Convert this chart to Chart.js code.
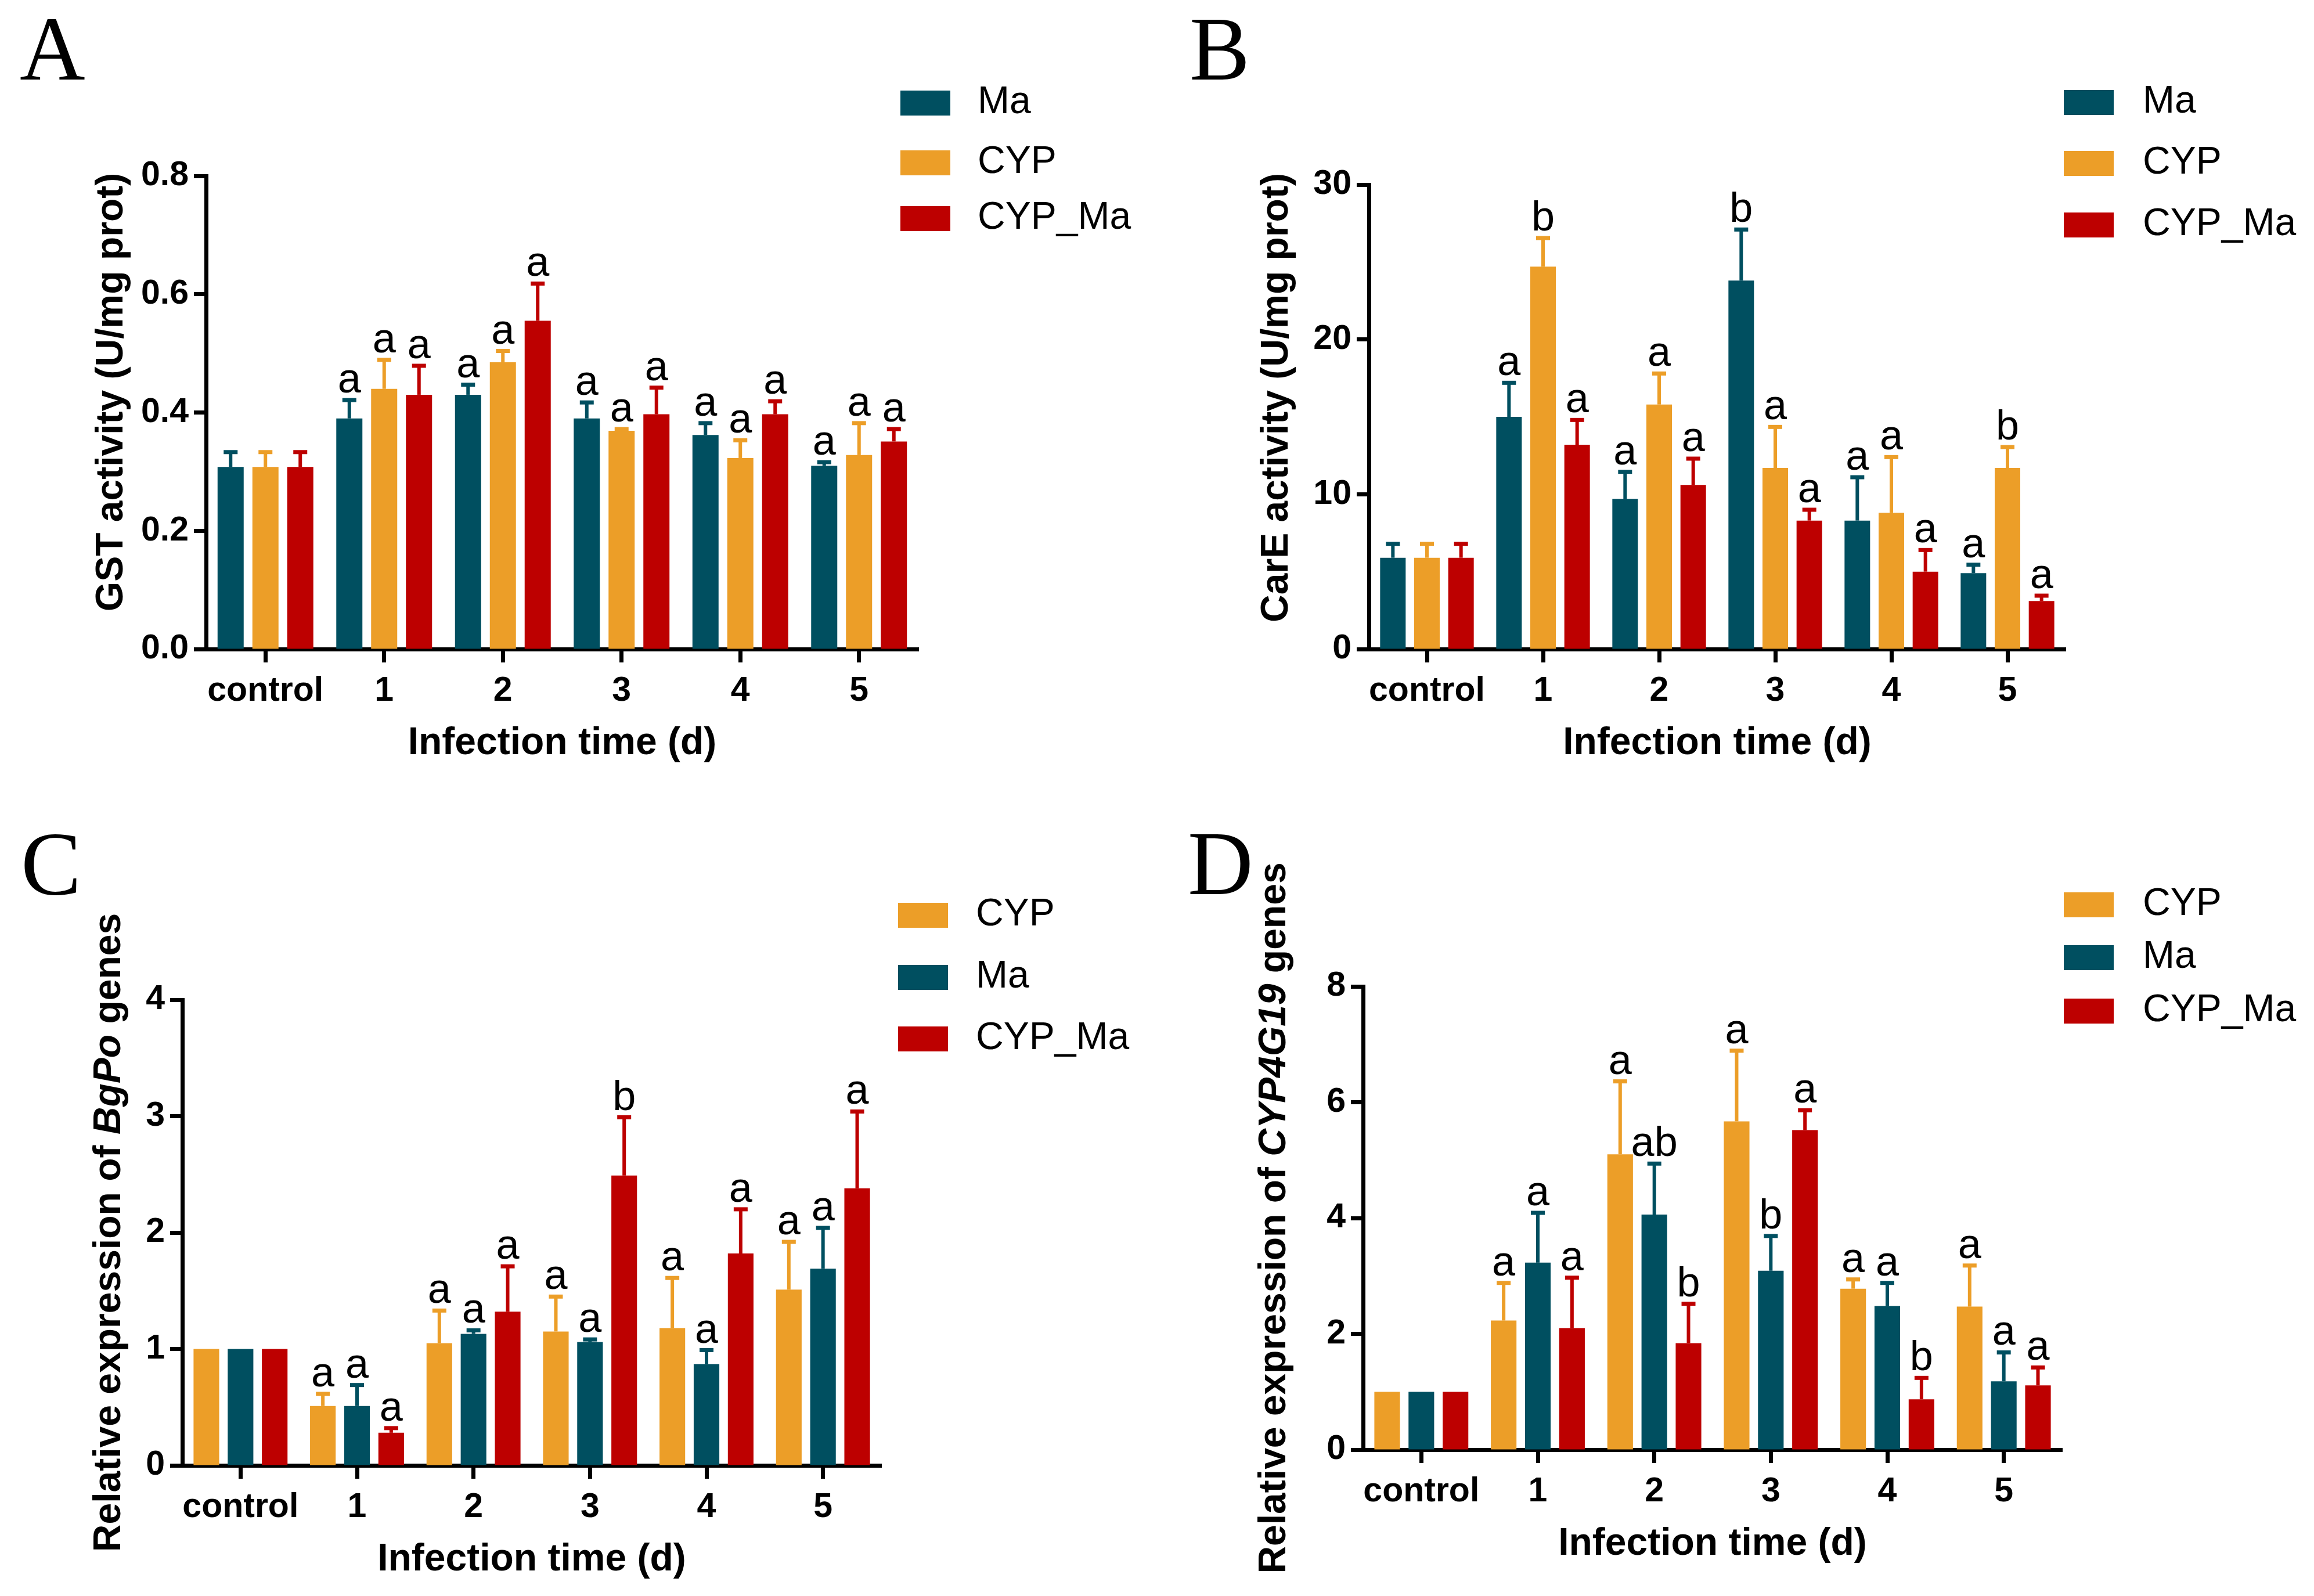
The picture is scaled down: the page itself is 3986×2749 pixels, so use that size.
<!DOCTYPE html>
<html>
<head>
<meta charset="utf-8">
<script src="https://cdn.jsdelivr.net/npm/chart.js@4.4.1/dist/chart.umd.min.js"></script>
<style>
  html, body { margin: 0; padding: 0; background: #fff; }
  body { width: 3986px; height: 2749px; position: relative; overflow: hidden; }
  canvas { position: absolute; }
  .tag { position: absolute; font-family: 'Liberation Serif', 'Times New Roman', serif; font-size: 156px; line-height: 1; color: #000; }
</style>
</head>
<body>
<div class="tag" style="left:34px;top:7px">A</div>
<div class="tag" style="left:2049px;top:7px">B</div>
<div class="tag" style="left:36px;top:1410px">C</div>
<div class="tag" style="left:2046px;top:1410px">D</div>

<canvas id="chartA" width="1993" height="1375" style="left:0;top:0;width:1993px;height:1375px"></canvas>
<canvas id="chartB" width="1993" height="1375" style="left:1993px;top:0;width:1993px;height:1375px"></canvas>
<canvas id="chartC" width="1993" height="1374" style="left:0;top:1375px;width:1993px;height:1374px"></canvas>
<canvas id="chartD" width="1993" height="1374" style="left:1993px;top:1375px;width:1993px;height:1374px"></canvas>

<script>
"use strict";

const categories = ['control', '1', '2', '3', '4', '5'];

const maColor = '#004f60';
const cypColor = '#ec9e28';
const cypMaColor = '#bd0000';

// ---- A: GST activity ----
const gstMa = [0.308, 0.39, 0.43, 0.39, 0.362, 0.31];
const gstMaErr = [0.025, 0.031, 0.017, 0.027, 0.02, 0.006];
const gstMaSig = ['', 'a', 'a', 'a', 'a', 'a'];
const gstCyp = [0.308, 0.44, 0.485, 0.369, 0.323, 0.328];
const gstCypErr = [0.025, 0.049, 0.019, 0.003, 0.03, 0.054];
const gstCypSig = ['', 'a', 'a', 'a', 'a', 'a'];
const gstCypMa = [0.308, 0.43, 0.555, 0.397, 0.397, 0.351];
const gstCypMaErr = [0.025, 0.049, 0.063, 0.045, 0.022, 0.021];
const gstCypMaSig = ['', 'a', 'a', 'a', 'a', 'a'];
const gstTicks = { max: 0.8, step: 0.2 };

// ---- B: CarE activity ----
const careMa = [5.9, 15.0, 9.7, 23.8, 8.3, 4.9];
const careMaErr = [0.9, 2.2, 1.75, 3.3, 2.8, 0.55];
const careMaSig = ['', 'a', 'a', 'b', 'a', 'a'];
const careCyp = [5.9, 24.7, 15.8, 11.7, 8.8, 11.7];
const careCypErr = [0.9, 1.85, 2.0, 2.65, 3.6, 1.35];
const careCypSig = ['', 'b', 'a', 'a', 'a', 'b'];
const careCypMa = [5.9, 13.2, 10.6, 8.3, 5.0, 3.1];
const careCypMaErr = [0.9, 1.6, 1.7, 0.7, 1.4, 0.35];
const careCypMaSig = ['', 'a', 'a', 'a', 'a', 'a'];
const careTicks = { max: 30, step: 10 };

// ---- C: BgPo expression ----
const bgpoCyp = [1, 0.51, 1.05, 1.15, 1.18, 1.51];
const bgpoCypErr = [0, 0.105, 0.28, 0.3, 0.43, 0.41];
const bgpoCypSig = ['', 'a', 'a', 'a', 'a', 'a'];
const bgpoMa = [1, 0.51, 1.13, 1.06, 0.87, 1.69];
const bgpoMaErr = [0, 0.18, 0.03, 0.022, 0.12, 0.35];
const bgpoMaSig = ['', 'a', 'a', 'a', 'a', 'a'];
const bgpoCypMa = [1, 0.28, 1.32, 2.49, 1.82, 2.38];
const bgpoCypMaErr = [0, 0.04, 0.39, 0.5, 0.38, 0.66];
const bgpoCypMaSig = ['', 'a', 'a', 'b', 'a', 'a'];
const bgpoTicks = { max: 4, step: 1 };

// ---- D: CYP4G19 expression ----
const cyp4Cyp = [1, 2.23, 5.1, 5.67, 2.78, 2.47];
const cyp4CypErr = [0, 0.65, 1.26, 1.22, 0.16, 0.71];
const cyp4CypSig = ['', 'a', 'a', 'a', 'a', 'a'];
const cyp4Ma = [1, 3.23, 4.06, 3.09, 2.48, 1.18];
const cyp4MaErr = [0, 0.86, 0.88, 0.6, 0.4, 0.5];
const cyp4MaSig = ['', 'a', 'ab', 'b', 'a', 'a'];
const cyp4CypMa = [1, 2.1, 1.84, 5.52, 0.87, 1.11];
const cyp4CypMaErr = [0, 0.87, 0.68, 0.34, 0.37, 0.31];
const cyp4CypMaSig = ['', 'a', 'b', 'a', 'b', 'a'];
const cyp4Ticks = { max: 8, step: 2 };

Chart.defaults.font.family = "'Liberation Sans', Arial, sans-serif";
Chart.defaults.color = '#000';

const FONT = "'Liberation Sans', Arial, sans-serif";

function series(label, color, data, err, sig) {
    return {
        label: label,
        data: data,
        err: err,
        sig: sig,
        backgroundColor: color,
        borderWidth: 0,
        categoryPercentage: 0.88,
        barPercentage: 0.75
    };
}

// error bars, letters, legend and y title
function panelDeco(geo) {
    return {
        id: 'panelDeco',
        afterDatasetsDraw(chart) {
            const ctx = chart.ctx;
            const y = chart.scales.y;
            ctx.save();
            chart.data.datasets.forEach((ds, i) => {
                chart.getDatasetMeta(i).data.forEach((bar, j) => {
                    const e = ds.err[j];
                    const top = y.getPixelForValue(ds.data[j] + e);
                    ctx.strokeStyle = ds.backgroundColor;
                    if (e > 0) {
                        ctx.lineWidth = 6;
                        ctx.beginPath();
                        ctx.moveTo(bar.x, bar.y);
                        ctx.lineTo(bar.x, top);
                        ctx.stroke();
                        ctx.lineWidth = 7;
                        ctx.beginPath();
                        ctx.moveTo(bar.x - 12, top);
                        ctx.lineTo(bar.x + 12, top);
                        ctx.stroke();
                    }
                    if (ds.sig[j]) {
                        ctx.fillStyle = '#000';
                        ctx.font = '72px ' + FONT;
                        ctx.textAlign = 'center';
                        ctx.textBaseline = 'alphabetic';
                        ctx.fillText(ds.sig[j], bar.x, top - 13);
                    }
                });
            });
            ctx.restore();
        },
        afterDraw(chart) {
            const ctx = chart.ctx;
            ctx.save();
            // legend
            ctx.font = '66px ' + FONT;
            ctx.textAlign = 'left';
            ctx.textBaseline = 'middle';
            chart.data.datasets.forEach((ds, i) => {
                const ry = geo.rows[i];
                ctx.fillStyle = ds.backgroundColor;
                ctx.fillRect(geo.boxX, ry - 21, 86, 43);
                ctx.fillStyle = '#000';
                ctx.fillText(ds.label, geo.textX, ry);
            });
            // y title with italic gene name
            const area = chart.chartArea;
            ctx.translate(geo.titleX, (area.top + area.bottom) / 2 + geo.titleDY);
            ctx.rotate(-Math.PI / 2);
            let total = 0;
            geo.title.forEach(p => {
                ctx.font = (p[1] ? 'italic ' : '') + 'bold 66px ' + FONT;
                total += ctx.measureText(p[0]).width;
            });
            let x = -total / 2;
            ctx.fillStyle = '#000';
            geo.title.forEach(p => {
                ctx.font = (p[1] ? 'italic ' : '') + 'bold 66px ' + FONT;
                ctx.fillText(p[0], x, 0);
                x += ctx.measureText(p[0]).width;
            });
            ctx.restore();
        }
    };
}

function makeChart(id, datasets, ticks, geo) {
    const canvas = document.getElementById(id);
    const yW = 140;
    const xH = 202;
    return new Chart(canvas, {
        type: 'bar',
        data: { labels: categories, datasets: datasets },
        options: {
            responsive: false,
            animation: false,
            devicePixelRatio: 1,
            layout: {
                padding: {
                    left: geo.L - yW,
                    right: canvas.width - geo.R,
                    top: geo.T,
                    bottom: canvas.height - geo.B - xH
                }
            },
            plugins: { legend: { display: false }, tooltip: { enabled: false } },
            scales: {
                x: {
                    afterFit: s => { s.height = xH; },
                    border: { color: '#000', width: 7 },
                    grid: { offset: false, drawOnChartArea: false, tickLength: 23, tickWidth: 7, tickColor: '#000' },
                    ticks: { font: { size: 59, weight: 'bold' }, padding: 14, maxRotation: 0, autoSkip: false },
                    title: { display: true, text: 'Infection time (d)', font: { size: 66, weight: 'bold' }, padding: 0 }
                },
                y: {
                    min: 0,
                    max: ticks.max,
                    afterFit: s => { s.width = yW; },
                    border: { color: '#000', width: 7 },
                    grid: { drawOnChartArea: false, tickLength: 21, tickWidth: 7, tickColor: '#000' },
                    ticks: {
                        stepSize: ticks.step,
                        font: { size: 59, weight: 'bold' },
                        padding: 9,
                        callback: v => ticks.step < 1 ? v.toFixed(1) : v
                    }
                }
            }
        },
        plugins: [panelDeco(geo)]
    });
}

makeChart('chartA', [
    series('Ma', maColor, gstMa, gstMaErr, gstMaSig),
    series('CYP', cypColor, gstCyp, gstCypErr, gstCypSig),
    series('CYP_Ma', cypMaColor, gstCypMa, gstCypMaErr, gstCypMaSig)
], gstTicks, {
    L: 355, R: 1582, T: 303, B: 1118,
    boxX: 1551, textX: 1684, rows: [177, 280, 376],
    titleX: 193, titleDY: -35, title: [['GST activity (U/mg prot)', false]]
});

makeChart('chartB', [
    series('Ma', maColor, careMa, careMaErr, careMaSig),
    series('CYP', cypColor, careCyp, careCypErr, careCypSig),
    series('CYP_Ma', cypMaColor, careCypMa, careCypMaErr, careCypMaSig)
], careTicks, {
    L: 365, R: 1565, T: 318, B: 1118,
    boxX: 1562, textX: 1698, rows: [176, 281, 387],
    titleX: 207, titleDY: -33, title: [['CarE activity (U/mg prot)', false]]
});

makeChart('chartC', [
    series('CYP', cypColor, bgpoCyp, bgpoCypErr, bgpoCypSig),
    series('Ma', maColor, bgpoMa, bgpoMaErr, bgpoMaSig),
    series('CYP_Ma', cypMaColor, bgpoCypMa, bgpoCypMaErr, bgpoCypMaSig)
], bgpoTicks, {
    L: 314, R: 1518, T: 347, B: 1149,
    boxX: 1547, textX: 1681, rows: [201, 308, 414],
    titleX: 189, titleDY: 0, title: [['Relative expression of ', false], ['BgPo', true], [' genes', false]]
});

makeChart('chartD', [
    series('CYP', cypColor, cyp4Cyp, cyp4CypErr, cyp4CypSig),
    series('Ma', maColor, cyp4Ma, cyp4MaErr, cyp4MaSig),
    series('CYP_Ma', cypMaColor, cyp4CypMa, cyp4CypMaErr, cyp4CypMaSig)
], cyp4Ticks, {
    L: 355, R: 1559, T: 324, B: 1122,
    boxX: 1562, textX: 1698, rows: [183, 274, 366],
    titleX: 203, titleDY: 0, title: [['Relative expression of ', false], ['CYP4G19', true], [' genes', false]]
});
</script>
</body>
</html>
